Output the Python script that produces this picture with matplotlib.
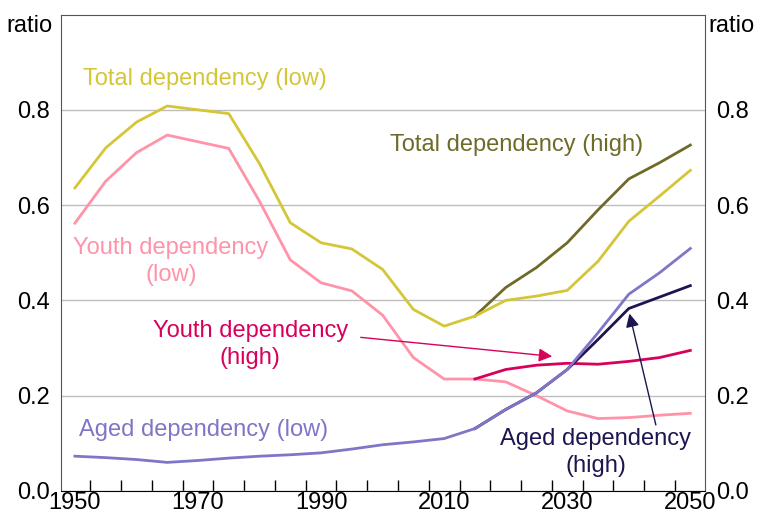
import matplotlib.pyplot as plt
import numpy as np

plt.rcParams['font.family'] = ['Liberation Sans', 'DejaVu Sans']

years = np.arange(1950, 2051, 5)
proj_years = np.arange(2015, 2051, 5)

total_low = [0.636, 0.720, 0.774, 0.808, 0.800, 0.792, 0.687, 0.563, 0.521, 0.508, 0.465,
             0.381, 0.346, 0.367, 0.400, 0.409, 0.421, 0.482, 0.566, 0.619, 0.673]
total_high = [0.367, 0.427, 0.469, 0.521, 0.590, 0.655, 0.689, 0.726]

youth_low = [0.562, 0.650, 0.710, 0.747, 0.733, 0.719, 0.608, 0.485, 0.437, 0.420, 0.369,
             0.280, 0.235, 0.235, 0.229, 0.200, 0.168, 0.152, 0.154, 0.159, 0.163]
youth_high = [0.235, 0.255, 0.264, 0.268, 0.266, 0.272, 0.280, 0.295]

aged_low = [0.073, 0.070, 0.066, 0.060, 0.064, 0.069, 0.073, 0.076, 0.080, 0.088, 0.097,
            0.103, 0.110, 0.131, 0.171, 0.206, 0.255, 0.332, 0.413, 0.458, 0.509]
aged_high = [0.131, 0.171, 0.206, 0.255, 0.318, 0.383, 0.407, 0.431]

c_total_low = '#d4c637'
c_total_high = '#6e6a28'
c_youth_low = '#ff93a8'
c_youth_high = '#d9005b'
c_aged_low = '#7e76c6'
c_aged_high = '#1c1650'

fig = plt.figure(figsize=(7.59, 5.19), dpi=100)
ax = fig.add_axes([0.080, 0.054, 0.849, 0.918])

ax.plot(years, youth_low, color=c_youth_low, lw=2)
ax.plot(proj_years, youth_high, color=c_youth_high, lw=2)
ax.plot(proj_years, aged_high, color=c_aged_high, lw=2)
ax.plot(years, aged_low, color=c_aged_low, lw=2)
ax.plot(proj_years, total_high, color=c_total_high, lw=2)
ax.plot(years, total_low, color=c_total_low, lw=2)

ax.set_xlim(1947.7, 2052.4)
ax.set_ylim(0, 1.0)
ax.set_yticks([0, 0.2, 0.4, 0.6, 0.8])
ax.set_yticklabels(['0.0', '0.2', '0.4', '0.6', '0.8'])
ax.yaxis.grid(True, color='#bdbdbd', lw=1)
ax.set_axisbelow(True)
ax.tick_params(axis='y', length=0, labelsize=17, pad=8, labelright=True)

ax.set_xticks(np.arange(1950, 2051, 20))
ax.set_xticks(np.arange(1952.5, 2050, 5), minor=True)
ax.tick_params(axis='x', which='major', length=0, labelsize=17, pad=1)
ax.tick_params(axis='x', which='minor', direction='in', length=8, width=1, color='black')

for s in ['left', 'right', 'top']:
    ax.spines[s].set_color('#555555')
ax.spines['bottom'].set_color('black')

fig.text(0.008, 0.950, 'ratio', fontsize=17, ha='left', va='center')
fig.text(0.994, 0.950, 'ratio', fontsize=17, ha='right', va='center')

fs = 17
ax.text(1971.2, 0.864, 'Total dependency (low)', color=c_total_low, fontsize=fs, ha='center', va='center')
ax.text(2021.8, 0.727, 'Total dependency (high)', color=c_total_high, fontsize=fs, ha='center', va='center')
ax.text(1965.6, 0.482, 'Youth dependency\n(low)', color=c_youth_low, fontsize=fs, ha='center', va='center', linespacing=1.27)
ax.text(1978.5, 0.308, 'Youth dependency\n(high)', color=c_youth_high, fontsize=fs, ha='center', va='center', linespacing=1.27)
ax.text(1970.9, 0.129, 'Aged dependency (low)', color=c_aged_low, fontsize=fs, ha='center', va='center')
ax.text(2034.6, 0.081, 'Aged dependency\n(high)', color=c_aged_high, fontsize=fs, ha='center', va='center', linespacing=1.27)

ax.annotate('', xy=(2028.0, 0.282), xytext=(1996.0, 0.323),
            arrowprops=dict(arrowstyle='-|>', color=c_youth_high, lw=1, mutation_scale=20))
ax.annotate('', xy=(2040.0, 0.378), xytext=(2044.5, 0.133),
            arrowprops=dict(arrowstyle='-|>', color=c_aged_high, lw=1, mutation_scale=20))

fig.savefig('out.png', dpi=100)
